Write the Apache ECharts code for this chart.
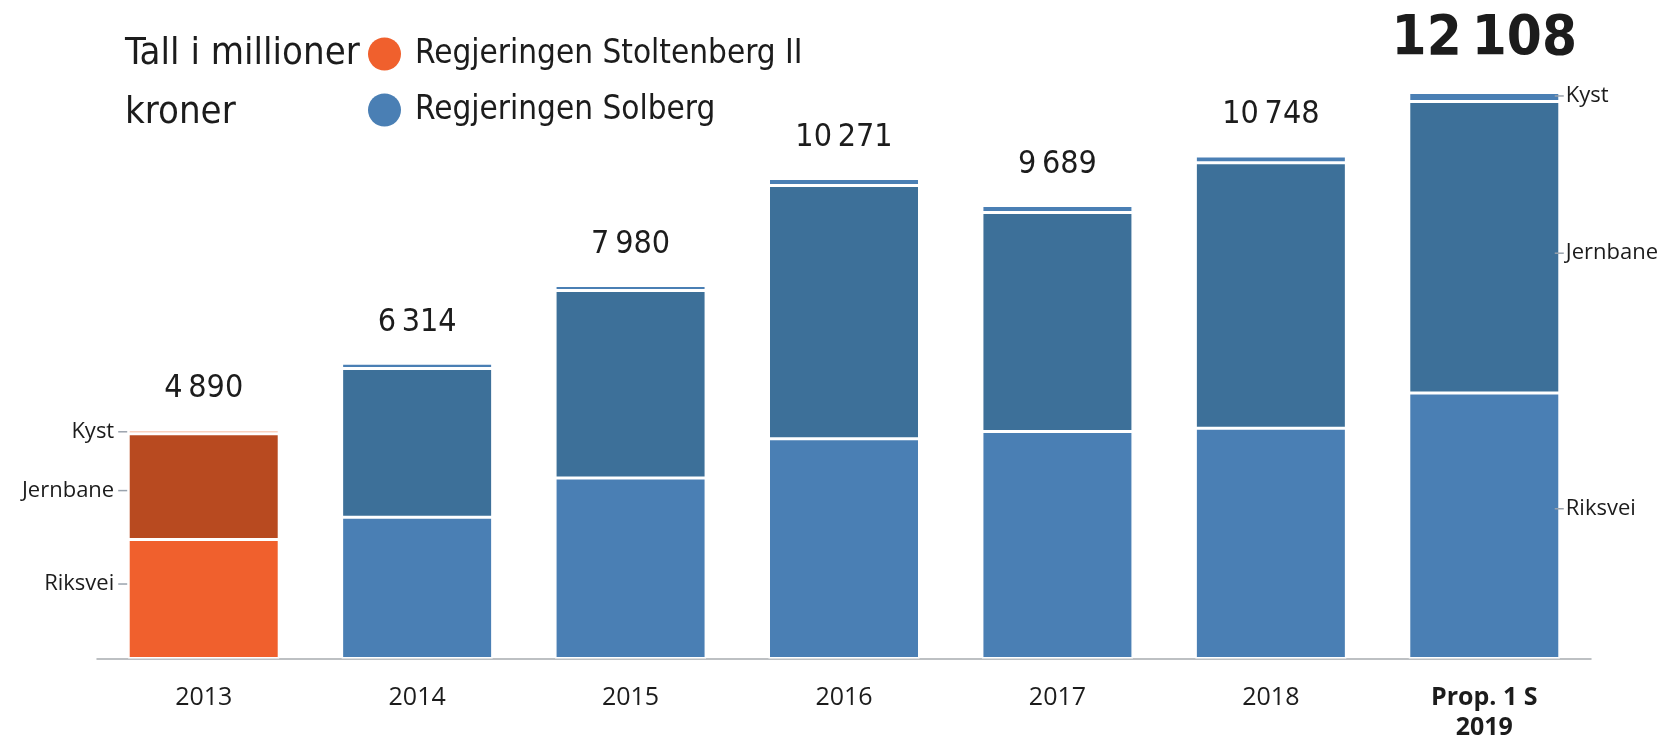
<!DOCTYPE html>
<html>
<head>
<meta charset="utf-8">
<title>Tall i millioner kroner</title>
<script src="https://cdn.jsdelivr.net/npm/echarts@6/dist/echarts.min.js"></script>
<style>
  html, body { margin: 0; padding: 0; background: #fff; }
  #chart { width: 1668px; height: 745px; }
</style>
</head>
<body>
<div id="chart"></div>
<script>
// Samferdselsinvesteringer per år, tall i millioner kroner
const years = ['2013', '2014', '2015', '2016', '2017', '2018', 'Prop. 1 S\n2019']
const riksvei = [2545, 3020, 3860, 4700, 4857, 4925, 5680]
const jernbane = [2265, 3184, 4010, 5421, 4682, 5683, 6238]
const kyst = [80, 110, 110, 150, 150, 140, 190]
const totals = [4890, 6314, 7980, 10271, 9689, 10748, 12108]
const governments = ['Regjeringen Stoltenberg II', 'Regjeringen Solberg']

// farger: oransje = Stoltenberg II (kun 2013), blå = Solberg
const ORANGE = { riksvei: '#f0602d', jernbane: '#b84a20', kyst: '#f2a27c', dot: '#f0602d' }
const BLUE = { riksvei: '#4a7fb4', jernbane: '#3d7099', kyst: '#4a7fb4', dot: '#4a7fb4' }
const NARROW = '"Liberation Sans Narrow", "DejaVu Sans Condensed", sans-serif'
const SANS = '"Open Sans", "Noto Sans", sans-serif'
const TEXT = '#1c1c1c'

// tusenskille med smalt mellomrom
const fmt = v => String(v).replace(/\B(?=(\d{3})+(?!\d))/g, '\u2009')

// Kyst / Jernbane / Riksvei-merkelapper ved første og siste søyle
function sideLabel(name, side, dy) {
  const left = side === 'left'
  return {
    show: true,
    position: left ? 'left' : 'right',
    distance: left ? 1 : -5,
    offset: [0, dy],
    formatter: left ? `{n|${name}}{t| }` : `{t| }{n|${name}}`,
    rich: {
      n: { fontFamily: SANS, fontSize: 22, color: TEXT, padding: left ? [0, 4, 0, 0] : [0, 0, 0, 2] },
      t: { width: 9, height: 1.5, backgroundColor: '#9aa3ad' }
    }
  }
}

function segment(values, key, name, offsets) {
  return {
    name,
    type: 'bar',
    stack: 'sum',
    barWidth: 151,
    itemStyle: { borderColor: '#fff', borderWidth: 1.5 },
    data: values.map((v, i) => {
      const item = { value: v, itemStyle: { color: (i === 0 ? ORANGE : BLUE)[key] } }
      if (i === 0) item.label = sideLabel(name, 'left', offsets[0])
      if (i === values.length - 1) item.label = sideLabel(name, 'right', offsets[1])
      return item
    })
  }
}

const chart = echarts.init(document.getElementById('chart'))

chart.setOption({
  backgroundColor: '#fff',
  animation: false,
  title: {
    text: 'Tall i millioner\nkroner',
    left: 120,
    top: 20,
    textStyle: { fontFamily: NARROW, fontSize: 38, fontWeight: 'normal', color: TEXT, lineHeight: 59 }
  },
  legend: {
    data: governments.map(name => ({ name, icon: 'circle' })),
    orient: 'vertical',
    left: 363,
    top: 31,
    itemWidth: 33,
    itemHeight: 33,
    itemGap: 20,
    selectedMode: false,
    textStyle: { fontFamily: NARROW, fontSize: 33, color: TEXT, lineHeight: 36, padding: [0, 0, 0, 9] }
  },
  grid: { left: 97, right: 77, top: 55.5, bottom: 86.5 },
  xAxis: {
    type: 'category',
    data: years,
    axisLine: { lineStyle: { color: '#a8acb0', width: 1.5 } },
    axisTick: { show: false },
    axisLabel: {
      margin: 24,
      fontFamily: SANS,
      fontSize: 25,
      color: TEXT,
      lineHeight: 30,
      formatter: v => v.includes('\n') ? v.split('\n').map(s => `{b|${s}}`).join('\n') : v,
      rich: { b: { fontFamily: SANS, fontSize: 25, fontWeight: 'bold', color: TEXT, lineHeight: 30 } }
    }
  },
  yAxis: { type: 'value', min: 0, max: 12900, show: false },
  series: [
    segment(riksvei, 'riksvei', 'Riksvei', [-15, -17]),
    segment(jernbane, 'jernbane', 'Jernbane', [4, 6]),
    segment(kyst, 'kyst', 'Kyst', [0, -1]),
    {
      // totalsummer over søylene
      name: 'Sum',
      type: 'scatter',
      symbolSize: 0,
      silent: true,
      itemStyle: { opacity: 1 },
      data: totals.map((v, i) => {
        const last = i === totals.length - 1
        return {
          value: v,
          label: last ? { fontSize: 56, fontWeight: 'bold' } : undefined
        }
      }),
      label: {
        show: true,
        position: 'top',
        distance: 25,
        fontFamily: NARROW,
        fontSize: 32,
        color: TEXT,
        opacity: 1,
        formatter: p => fmt(p.value)
      }
    },
    // bare for forklaringen
    { name: governments[0], type: 'line', data: [], color: ORANGE.dot },
    { name: governments[1], type: 'line', data: [], color: BLUE.dot }
  ]
})
</script>
</body>
</html>
